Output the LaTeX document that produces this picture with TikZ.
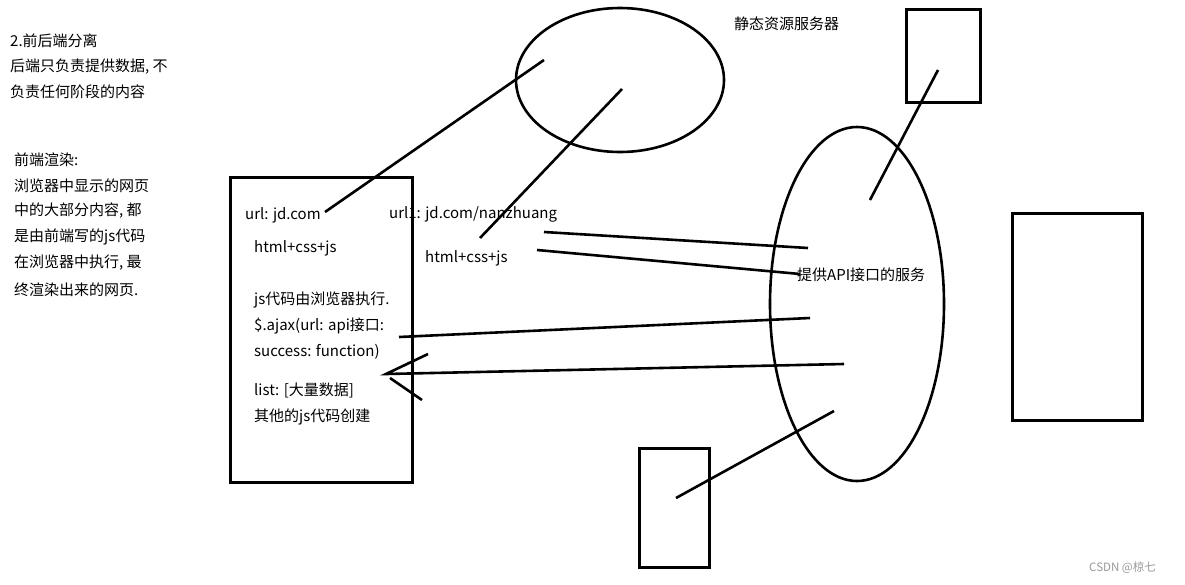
\documentclass[tikz,border=0pt]{standalone}
\usepackage{fontspec}
\newfontfamily\cjk{Noto Sans CJK SC}
\usetikzlibrary{shapes.geometric}
\tikzset{
  txt/.style={anchor=west, inner sep=0pt, font=\cjk\fontsize{15}{16}\selectfont},
  outline/.style={draw, line width=2.6pt},
  link/.style={draw, line width=2.6pt},
  oval/.style={outline, ellipse, inner sep=0pt},
  box/.style={outline, rectangle, inner sep=0pt, anchor=north west},
}
\begin{document}
\begin{tikzpicture}[x=1pt,y=-1pt]
\useasboundingbox[fill=white] (0,0) rectangle (1185,584);
% shapes
\node[oval, minimum width=208pt, minimum height=144pt] (top) at (620,80) {};
\node[oval, minimum width=174pt, minimum height=354pt] (api) at (857,304) {};
\node[box, minimum width=182pt, minimum height=305pt] (browser) at (229,176) {};
\node[box, minimum width=74pt, minimum height=93pt] (r1) at (905,8) {};
\node[box, minimum width=130pt, minimum height=207pt] (r2) at (1011,212) {};
\node[box, minimum width=70pt, minimum height=119pt] (r3) at (638,447) {};
% texts left
\node[txt] (t1) at (10,41) {2.前后端分离};
\node[txt] (t2) at (10,67) {后端只负责提供数据, 不};
\node[txt] (t3) at (10,92) {负责任何阶段的内容};
\node[txt] (t4) at (14,160) {前端渲染:};
\node[txt] (t5) at (14,186) {浏览器中显示的网页};
\node[txt] (t6) at (14,211) {中的大部分内容, 都};
\node[txt] (t7) at (14,237) {是由前端写的js代码};
\node[txt] (t8) at (14,263) {在浏览器中执行, 最};
\node[txt] (t9) at (14,290) {终渲染出来的网页.};
\node[txt] (static) at (734,24) {静态资源服务器};
% browser texts
\node[txt] (u1) at (245,215) {url: jd.com};
\node[txt] (h1) at (254,248) {html+css+js};
\node[txt] (b1) at (254,300) {js代码由浏览器执行.};
\node[txt] (b2) at (254,326) {\$.ajax(url: api接口:};
\node[txt] (b3) at (254,352) {success: function)};
\node[txt] (b4) at (254,390) {list: [大量数据]};
\node[txt] (b5) at (254,417) {其他的js代码创建};
\node[txt] (u2) at (389,214) {url1: jd.com/nanzhuang};
\node[txt] (h2) at (425,258) {html+css+js};
\node[txt] (apitxt) at (797,275) {提供API接口的服务};
\node[anchor=west, inner sep=0pt, text=black!40, font=\cjk\fontsize{11.5}{12}\selectfont] (csdn) at (1089,568) {CSDN @椋七};
% connector end points
\coordinate (a1) at (325,212); \coordinate (a2) at (544,60);
\coordinate (c1) at (480,238); \coordinate (c2) at (622,89);
\coordinate (d1) at (544,232); \coordinate (d2) at (808,248);
\coordinate (e1) at (537,250); \coordinate (e2) at (800,274);
\coordinate (f1) at (399,337); \coordinate (f2) at (810,318);
\coordinate (g1) at (386,374); \coordinate (g2) at (844,364);
\coordinate (g3) at (428,354); \coordinate (g4) at (390,378); \coordinate (g5) at (422,400);
\coordinate (k1) at (870,200); \coordinate (k2) at (938,70);
\coordinate (m1) at (676,498); \coordinate (m2) at (834,411);
% connectors
\draw[link] (a1) -- (a2);
\draw[link] (c1) -- (c2);
\draw[link] (d1) -- (d2);
\draw[link] (e1) -- (e2);
\draw[link] (f1) -- (f2);
\draw[link] (g2) -- (g1) -- (g3);
\draw[link] (g4) -- (g5);
\draw[link] (k1) -- (k2);
\draw[link] (m1) -- (m2);
\end{tikzpicture}
\end{document}
